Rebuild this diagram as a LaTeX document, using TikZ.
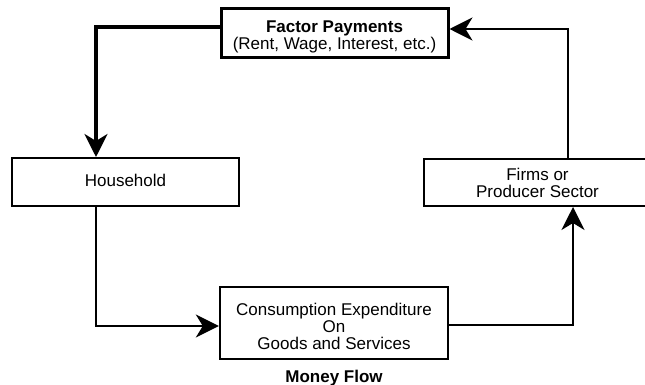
\documentclass[tikz,border=0pt]{standalone}
\usepackage{fontspec}
\setmainfont{Liberation Sans}
\usetikzlibrary{arrows.meta}
\begin{document}
\begin{tikzpicture}[x=1pt,y=-1pt,
  box/.style={draw, rectangle, inner sep=0pt},
  txt/.style={inner sep=0pt, align=center, font=\fontsize{17}{17}\selectfont},
  conn/.style={line width=1.4pt, line join=miter,
    -{Stealth[length=23pt,width=23pt,inset=7pt]}}
]
\useasboundingbox (0,0) rectangle (645,385);
\node[box, line width=3pt, minimum width=227pt, minimum height=49pt] (fp) at (334.5,33.5) {};
\node[txt] (fpt) at (334.5,36.5) {\textbf{Factor Payments}\\(Rent, Wage, Interest, etc.)};
\node[box, line width=2pt, minimum width=227pt, minimum height=48pt] (hh) at (125.5,182) {};
\node[txt] (hht) at (125.5,180.5) {Household};
\node[box, line width=2pt, minimum width=227pt, minimum height=47pt] (fi) at (537.5,182.5) {};
\node[txt] (fit) at (537.5,183) {Firms or\\Producer Sector};
\node[box, line width=2.4pt, minimum width=228pt, minimum height=72pt] (ce) at (334,323) {};
\node[txt] (cet) at (334,326) {Consumption Expenditure\\On\\Goods and Services};
\node[txt, font=\fontsize{17}{17}\selectfont\bfseries] (mf) at (334,378) {Money Flow};

\draw[conn, line width=3.2pt] ([yshift=6.5pt]fp.west) -| ([xshift=-29.5pt]hh.north);
\draw[conn] ([xshift=-29.5pt]hh.south) |- ([yshift=-3pt]ce.west);
\draw[conn] ([yshift=-2pt]ce.east) -| ([xshift=35.5pt]fi.south);
\draw[conn] ([xshift=30.5pt]fi.north) |- ([yshift=4.5pt]fp.east);
\end{tikzpicture}
\end{document}
